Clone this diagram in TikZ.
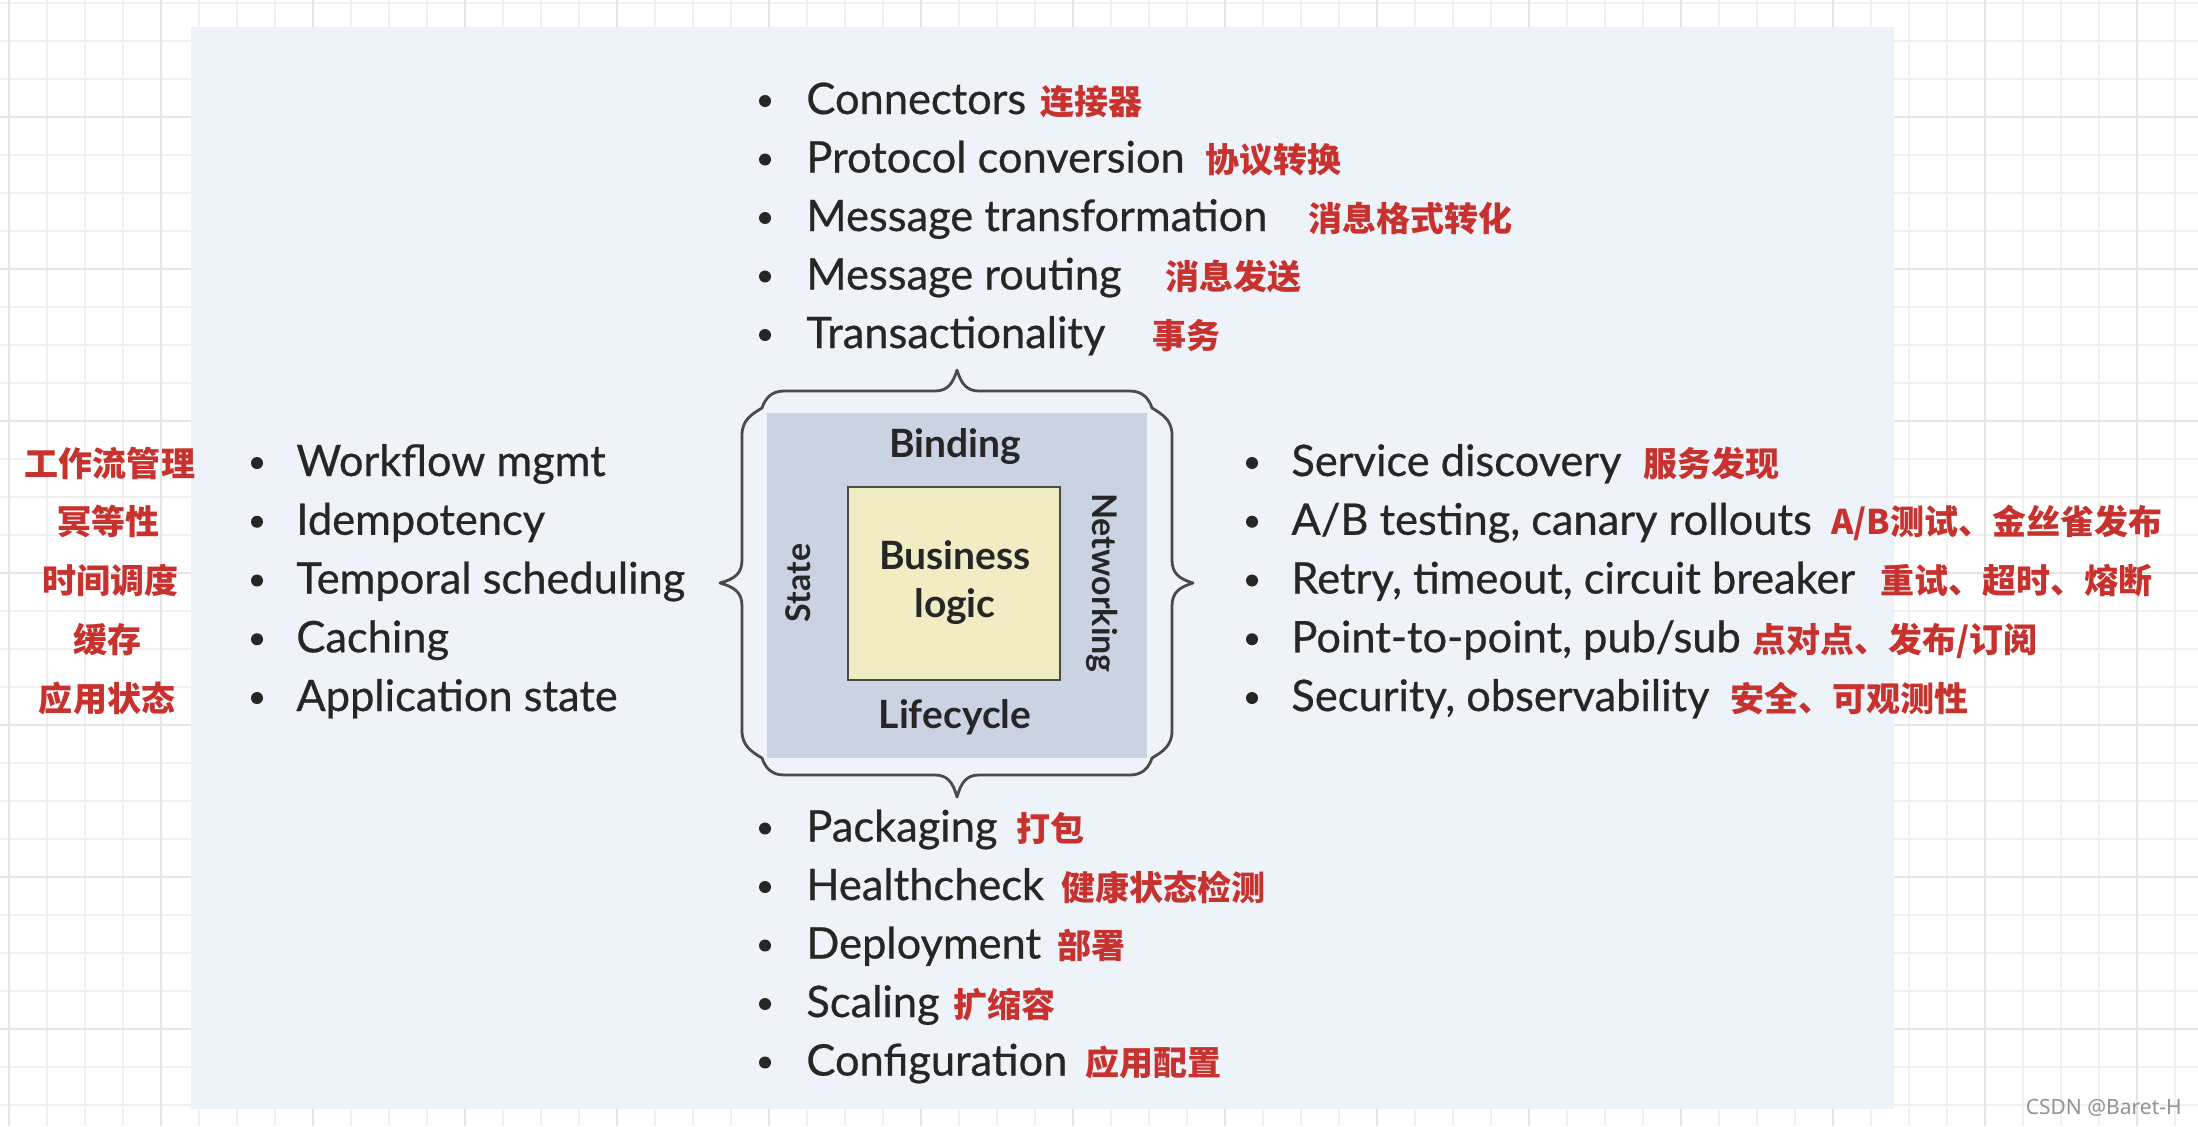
\documentclass[tikz,border=0pt]{standalone}
\usepackage{fontspec}
\setmainfont{Lato}
\newfontfamily\enfont{Lato}[FakeBold=0.6]
\newfontfamily\cjk{Noto Sans CJK SC}
\newfontfamily\wmfont{Noto Sans}
\definecolor{gridminor}{HTML}{F0F0F0}
\definecolor{gridmajor}{HTML}{E5E5E5}
\definecolor{panel}{HTML}{EDF3F9}
\definecolor{layer}{HTML}{C9D3E2}
\definecolor{core}{HTML}{F2ECC4}
\definecolor{txt}{HTML}{262626}
\definecolor{zhred}{HTML}{C8322E}
\definecolor{framec}{HTML}{4A4A4A}
\tikzset{
  en/.style={anchor=base west, text=txt, font=\enfont\fontsize{21.7}{26}\selectfont, inner sep=0pt},
  zh/.style={anchor=base west, text=zhred, font=\cjk\bfseries\fontsize{17}{20}\selectfont, inner sep=0pt},
  zhc/.style={zh, anchor=base},
  lbl/.style={text=txt, font=\bfseries\fontsize{19.5}{22}\selectfont, inner sep=0pt},
  vlbl/.style={text=txt, font=\bfseries\fontsize{17}{20}\selectfont, inner sep=0pt},
  dot/.style={fill=txt}
}
\begin{document}
\begin{tikzpicture}[x=0.5pt,y=-0.5pt]
\useasboundingbox (0,0) rectangle (2198,1126);
\fill[white] (0,0) rectangle (2198,1126);
% grid
\foreach \k in {0,...,57} \draw[gridminor, line width=1pt] (8.5+38*\k,0) -- (8.5+38*\k,1126);
\foreach \k in {0,...,29} \draw[gridminor, line width=1pt] (0,2.5+38*\k) -- (2198,2.5+38*\k);
\foreach \k in {0,...,14} \draw[gridmajor, line width=1pt] (8.5+152*\k,0) -- (8.5+152*\k,1126);
\foreach \k in {0,...,6} \draw[gridmajor, line width=1pt] (0,116.5+152*\k) -- (2198,116.5+152*\k);
% panel
\fill[panel] (191,27) rectangle (1894,1109);
% layers
\fill[layer] (767,413) rectangle (1147,758);
\node[draw=framec, fill=core, line width=1pt, minimum width=106pt, minimum height=96.5pt, inner sep=0pt] (core) at (954,583.5) {};
\node[lbl] (binding) at (955,447) {Binding};
\node[lbl] (lifecycle) at (955,717) {Lifecycle};
\node[vlbl, rotate=90] (state) at (798,583) {State};
\node[vlbl, rotate=-90] (networking) at (1102,583) {Networking};
\node[lbl] (business) at (955,555) {Business};
\node[lbl] (logic) at (955,607) {logic};
% frame of braces
\draw[framec, line width=1.4pt, line join=round]
 (742,435) .. controls (742,420) and (752,414) .. (762,408) .. controls (765,399) and (771,391) .. (784,391)
 -- (935,391) .. controls (948,391) and (953,383) .. (957,370) .. controls (961,383) and (966,391) .. (979,391)
 -- (1130,391) .. controls (1143,391) and (1149,399) .. (1152,408) .. controls (1162,414) and (1172,420) .. (1172,435)
 -- (1172,560) .. controls (1172,574) and (1180,579) .. (1193,583) .. controls (1180,587) and (1172,592) .. (1172,606)
 -- (1172,731) .. controls (1172,746) and (1162,752) .. (1152,758) .. controls (1149,767) and (1143,775) .. (1130,775)
 -- (979,775) .. controls (966,775) and (961,783) .. (957,797) .. controls (953,783) and (948,775) .. (935,775)
 -- (784,775) .. controls (771,775) and (765,767) .. (762,758) .. controls (752,752) and (742,746) .. (742,731)
 -- (742,606) .. controls (742,592) and (734,587) .. (720,583) .. controls (734,579) and (742,574) .. (742,560) -- cycle;
% top list
\foreach \yy in {101,159.5,218,276.5,335} \fill[dot] (765,\yy) circle (6);
\node[en] (t1) at (806,114) {Connectors};
\node[en] (t2) at (806,172.5) {Protocol conversion};
\node[en] (t3) at (806,231) {Message transformation};
\node[en] (t4) at (806,289.5) {Message routing};
\node[en] (t5) at (806,348) {Transactionality};
\node[zh] (tz1) at (1040,114) {连接器};
\node[zh] (tz2) at (1205,172.5) {协议转换};
\node[zh] (tz3) at (1308,231) {消息格式转化};
\node[zh] (tz4) at (1165,289.5) {消息发送};
\node[zh] (tz5) at (1152,348) {事务};
% left list
\foreach \yy in {463,521.75,580.5,639.25,698} \fill[dot] (257,\yy) circle (6);
\node[en] (l1) at (296,476) {Workflow mgmt};
\node[en] (l2) at (296,534.75) {Idempotency};
\node[en] (l3) at (296,593.5) {Temporal scheduling};
\node[en] (l4) at (296,652.25) {Caching};
\node[en] (l5) at (296,711) {Application state};
\node[zhc] (lz1) at (110,476) {工作流管理};
\node[zhc] (lz2) at (108,534.75) {冥等性};
\node[zhc] (lz3) at (110,593.5) {时间调度};
\node[zhc] (lz4) at (107,652.25) {缓存};
\node[zhc] (lz5) at (107,711) {应用状态};
% right list
\foreach \yy in {463,521.75,580.5,639.25,698} \fill[dot] (1252,\yy) circle (6);
\node[en] (r1) at (1291,476) {Service discovery};
\node[en] (r2) at (1291,534.75) {A/B testing, canary rollouts};
\node[en] (r3) at (1291,593.5) {Retry, timeout, circuit breaker};
\node[en] (r4) at (1291,652.25) {Point-to-point, pub/sub};
\node[en] (r5) at (1291,711) {Security, observability};
\node[zh] (rz1) at (1643,476) {服务发现};
\node[zh] (rz2) at (1831,534.75) {A/B测试、金丝雀发布};
\node[zh] (rz3) at (1880,593.5) {重试、超时、熔断};
\node[zh] (rz4) at (1752,652.25) {点对点、发布/订阅};
\node[zh] (rz5) at (1730,711) {安全、可观测性};
% bottom list
\foreach \yy in {828.5,887,945.5,1004,1062.5} \fill[dot] (765,\yy) circle (6);
\node[en] (b1) at (806,841.5) {Packaging};
\node[en] (b2) at (806,900) {Healthcheck};
\node[en] (b3) at (806,958.5) {Deployment};
\node[en] (b4) at (806,1017) {Scaling};
\node[en] (b5) at (806,1075.5) {Configuration};
\node[zh] (bz1) at (1016,841.5) {打包};
\node[zh] (bz2) at (1061,900) {健康状态检测};
\node[zh] (bz3) at (1057,958.5) {部署};
\node[zh] (bz4) at (953,1017) {扩缩容};
\node[zh] (bz5) at (1085,1075.5) {应用配置};
% watermark
\node[anchor=east, text=gray!85, font=\wmfont\fontsize{10.5}{12}\selectfont, inner sep=0pt] (wm) at (2182,1108) {CSDN @Baret-H};
\end{tikzpicture}
\end{document}
